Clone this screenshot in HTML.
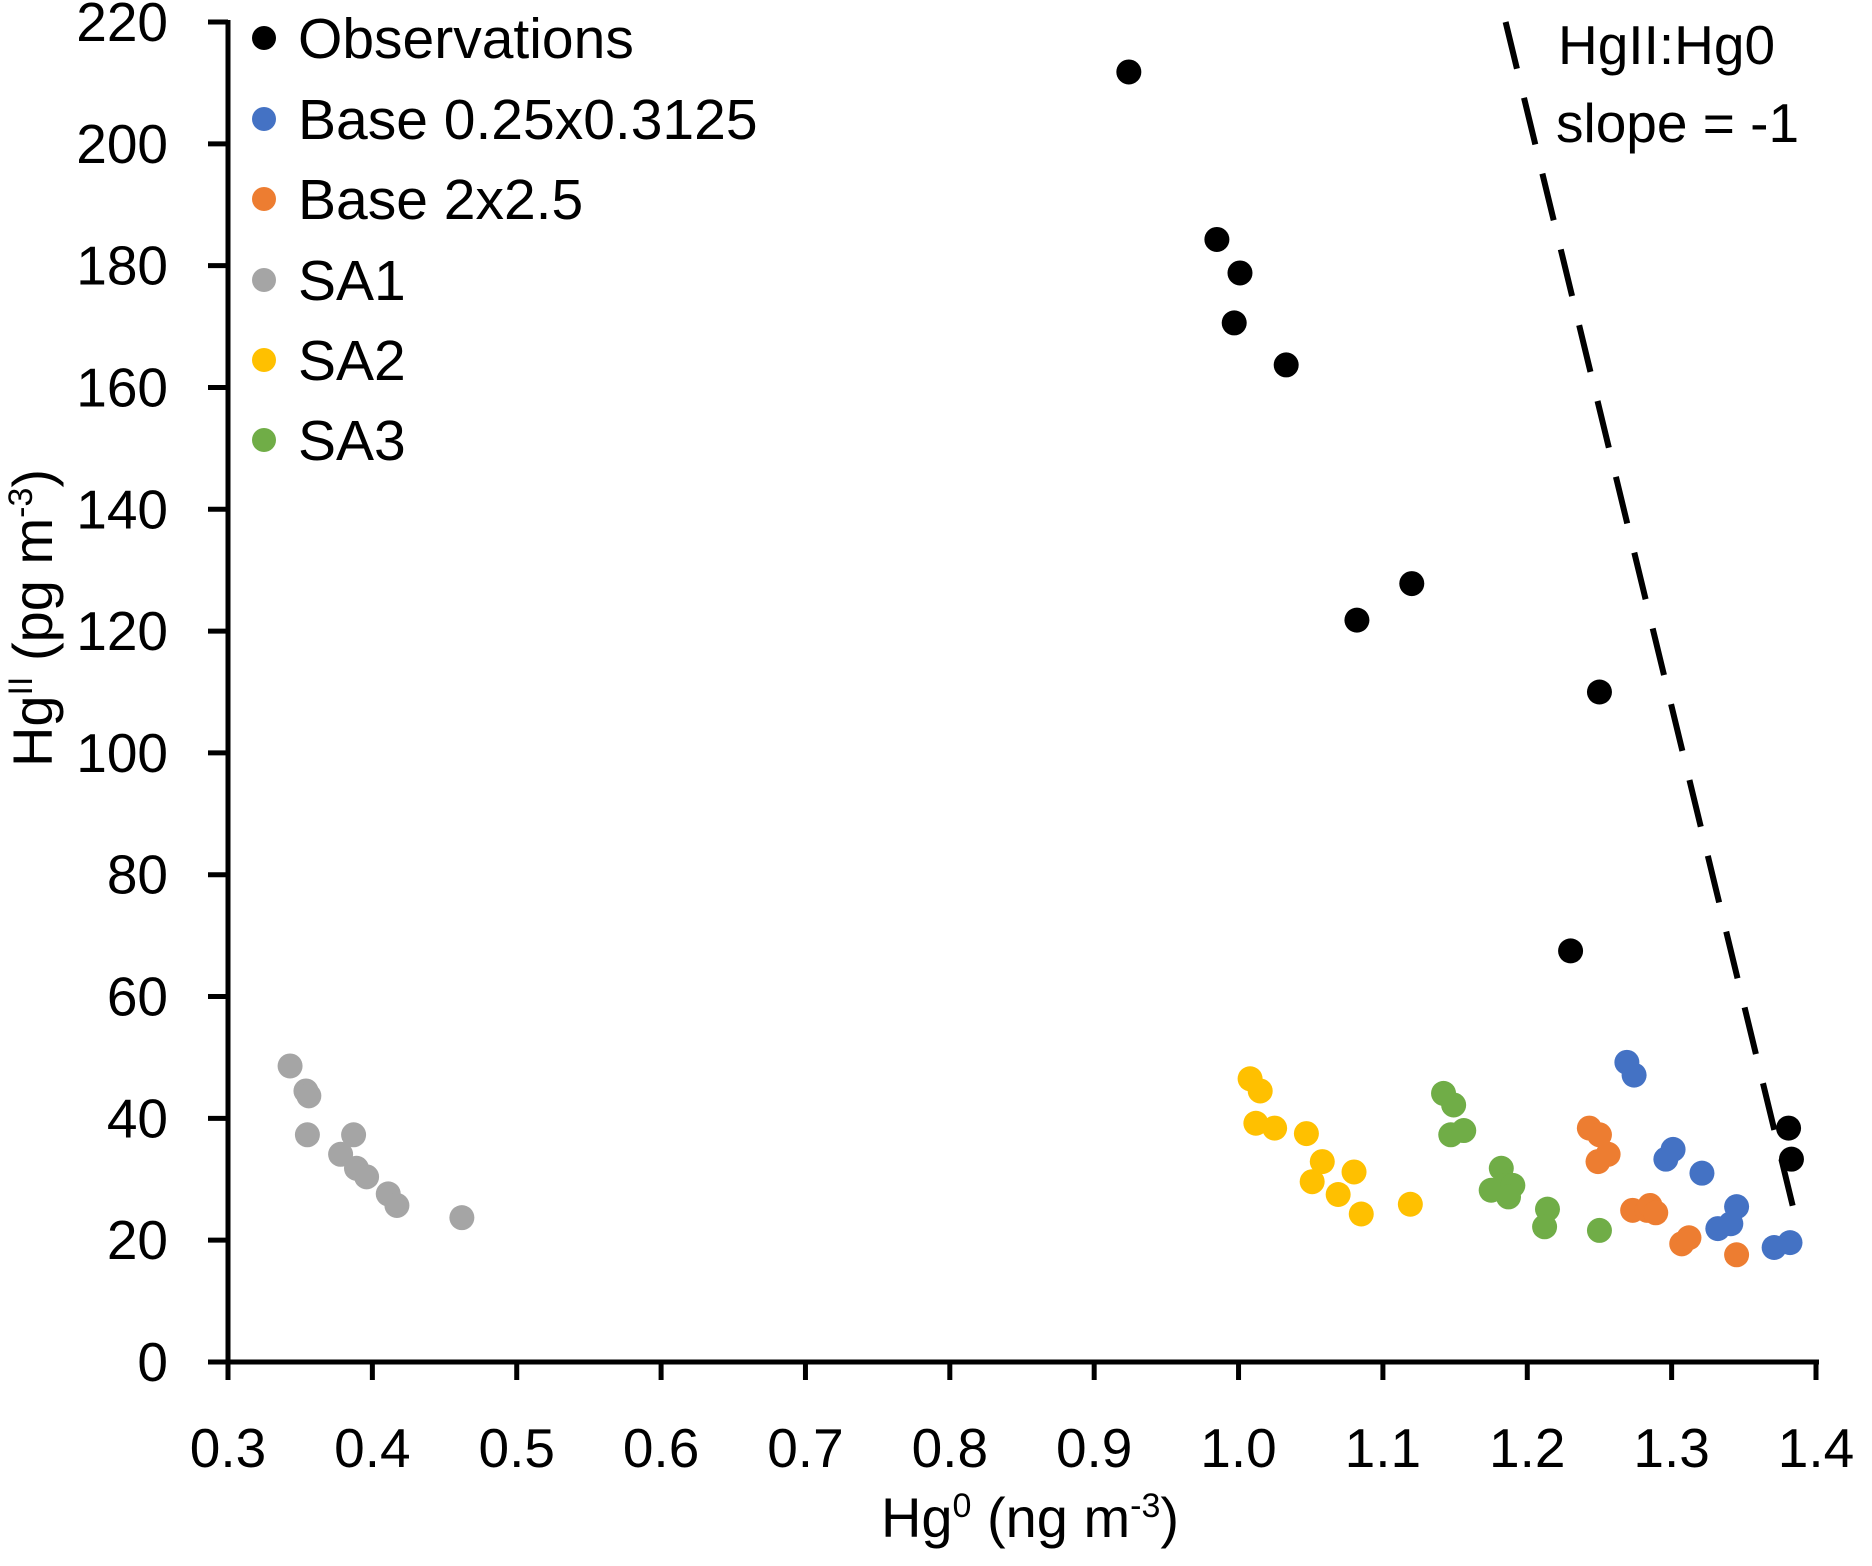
<!DOCTYPE html>
<html><head><meta charset="utf-8"><style>
html,body{margin:0;padding:0;background:#fff;}
svg{display:block;font-family:"Liberation Sans",sans-serif;}
</style></head><body>
<svg id="chart" width="1872" height="1566" viewBox="0 0 1872 1566" xmlns="http://www.w3.org/2000/svg"></svg>
<script>
const xTicks=[0.3,0.4,0.5,0.6,0.7,0.8,0.9,1.0,1.1,1.2,1.3,1.4];
const xTickLabels=["0.3","0.4","0.5","0.6","0.7","0.8","0.9","1.0","1.1","1.2","1.3","1.4"];
const yTicks=[0,20,40,60,80,100,120,140,160,180,200,220];
const seriesNames=["Observations","Base 0.25x0.3125","Base 2x2.5","SA1","SA2","SA3"];
const seriesColors=["#000000","#4472c4","#ed7d31","#a5a5a5","#ffc000","#70ad47"];
const obsX=[0.924,0.985,1.001,0.997,1.033,1.082,1.120,1.250,1.230,1.381,1.383];
const obsY=[211.8,184.3,178.8,170.6,163.7,121.8,127.8,110.0,67.5,38.4,33.3];
const baseFineX=[1.269,1.274,1.296,1.301,1.321,1.345,1.341,1.332,1.371,1.382];
const baseFineY=[49.2,47.1,33.3,34.9,31.0,25.5,22.7,21.9,18.8,19.6];
const baseCoarseX=[1.243,1.250,1.249,1.256,1.273,1.283,1.285,1.289,1.307,1.312,1.345];
const baseCoarseY=[38.4,37.3,32.9,34.1,24.9,24.9,25.7,24.5,19.4,20.4,17.6];
const sa1X=[0.343,0.354,0.356,0.355,0.378,0.387,0.389,0.396,0.411,0.417,0.462];
const sa1Y=[48.6,44.5,43.7,37.3,34.1,37.3,31.8,30.4,27.6,25.7,23.7];
const sa2X=[1.008,1.015,1.012,1.025,1.047,1.058,1.051,1.080,1.069,1.085,1.119];
const sa2Y=[46.5,44.5,39.2,38.4,37.5,32.9,29.6,31.2,27.5,24.3,25.9];
const sa3X=[1.142,1.149,1.147,1.156,1.182,1.185,1.175,1.190,1.187,1.214,1.212,1.250];
const sa3Y=[44.1,42.2,37.3,38.0,31.8,29.0,28.2,29.0,27.1,25.1,22.2,21.6];
const slopeLineX=[1.185,1.388];
const slopeLineY=[220,21.6];

const NS="http://www.w3.org/2000/svg";
const svg=document.getElementById('chart');
const X0=228,X1=1816,Y0=1362,Y1=22;
function sx(v){return X0+(v-0.3)/(1.4-0.3)*(X1-X0);}
function sy(v){return Y0-(v/220)*(Y0-Y1);}
function mk(tag,attrs,text){const e=document.createElementNS(NS,tag);for(const k in attrs)e.setAttribute(k,attrs[k]);if(text!==undefined)e.textContent=text;svg.appendChild(e);return e;}

let e=mk('line',{x1:X0,y1:Y0,x2:X1+3,y2:Y0,stroke:'#000','stroke-width':5});


e=mk('line',{x1:X0,y1:Y0+2,x2:X0,y2:Y1-2,stroke:'#000','stroke-width':5});



xTicks.forEach((t,i)=>{
  const x=sx(t);
  let l=mk('line',{x1:x,y1:Y0,x2:x,y2:Y0+18,stroke:'#000','stroke-width':5});
  
  
  let tx=mk('text',{x:x,y:1467,'font-size':55,'text-anchor':'middle',fill:'#000'},xTickLabels[i]);
  
  
});
yTicks.forEach(t=>{
  const y=sy(t);
  let l=mk('line',{x1:X0-20,y1:y,x2:X0,y2:y,stroke:'#000','stroke-width':5});
  
  
  let tx=mk('text',{x:168,y:y+19,'font-size':55,'text-anchor':'end',fill:'#000'},String(t));
  
  
});

e=mk('text',{x:1030,y:1537,'font-size':56,'text-anchor':'middle',fill:'#000'});
e.innerHTML='Hg<tspan dy="-20" font-size="34">0</tspan><tspan dy="20"> (ng m</tspan><tspan dy="-20" font-size="34">-3</tspan><tspan dy="20">)</tspan>';


e=mk('text',{x:0,y:0,'font-size':56,'text-anchor':'middle',fill:'#000',transform:'translate(52,618) rotate(-90)'});
e.innerHTML='Hg<tspan dy="-20" font-size="34">II</tspan><tspan dy="20"> (pg m</tspan><tspan dy="-20" font-size="34">-3</tspan><tspan dy="20">)</tspan>';



e=mk('line',{x1:sx(slopeLineX[0]),y1:sy(slopeLineY[0]),x2:sx(slopeLineX[1]),y2:sy(slopeLineY[1]),stroke:'#000','stroke-width':6,'stroke-dasharray':'48 30'});



const allX=[obsX,baseFineX,baseCoarseX,sa1X,sa2X,sa3X];
const allY=[obsY,baseFineY,baseCoarseY,sa1Y,sa2Y,sa3Y];
const order=[3,4,5,2,1,0];
order.forEach(s=>{
  allX[s].forEach((xv,i)=>{
    const c=mk('circle',{cx:sx(xv),cy:sy(allY[s][i]),r:12.5,fill:seriesColors[s]});
    
    
  });
});

const legY=[38,119,199,280,360,440];
seriesNames.forEach((n,i)=>{
  const c=mk('circle',{cx:264,cy:legY[i],r:12,fill:seriesColors[i]});
  
  
  const t=mk('text',{x:298,y:legY[i]+20,'font-size':57,fill:'#000'},n);
  
  
});

e=mk('text',{x:1558,y:64,'font-size':55,fill:'#000'},'HgII:Hg0');


e=mk('text',{x:1556,y:142,'font-size':55,fill:'#000'},'slope = -1');


</script>
</body></html>
